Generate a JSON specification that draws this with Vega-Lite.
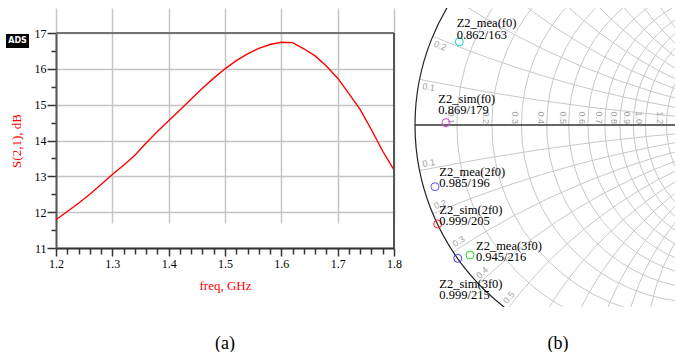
{
  "$schema": "https://vega.github.io/schema/vega-lite/v6.json",
  "padding": {"left": 5, "top": 8, "right": 0, "bottom": 0},
  "background": "white",
  "spacing": 11,
  "config": {"view": {"stroke": null}, "font": "Liberation Serif"},
  "datasets": {
    "curve": [
      {"f": 1.2, "s21": 11.79}, {"f": 1.22, "s21": 12.02}, {"f": 1.24, "s21": 12.25}, {"f": 1.26, "s21": 12.5},
      {"f": 1.28, "s21": 12.77}, {"f": 1.3, "s21": 13.05}, {"f": 1.32, "s21": 13.31}, {"f": 1.34, "s21": 13.59},
      {"f": 1.36, "s21": 13.93}, {"f": 1.38, "s21": 14.25}, {"f": 1.4, "s21": 14.55}, {"f": 1.42, "s21": 14.85},
      {"f": 1.44, "s21": 15.16}, {"f": 1.46, "s21": 15.46}, {"f": 1.48, "s21": 15.74}, {"f": 1.5, "s21": 16.0},
      {"f": 1.52, "s21": 16.23}, {"f": 1.54, "s21": 16.42}, {"f": 1.56, "s21": 16.57}, {"f": 1.58, "s21": 16.68},
      {"f": 1.6, "s21": 16.74}, {"f": 1.62, "s21": 16.73}, {"f": 1.64, "s21": 16.56}, {"f": 1.66, "s21": 16.36},
      {"f": 1.68, "s21": 16.08}, {"f": 1.7, "s21": 15.74}, {"f": 1.72, "s21": 15.31}, {"f": 1.74, "s21": 14.86},
      {"f": 1.76, "s21": 14.3}, {"f": 1.78, "s21": 13.7}, {"f": 1.8, "s21": 13.18}
    ],
    "grid": [
      {"cre": 0.0909, "cim": 0, "rad": 0.9091}, {"cre": 0.1667, "cim": 0, "rad": 0.8333},
      {"cre": 0.2308, "cim": 0, "rad": 0.7692}, {"cre": 0.2857, "cim": 0, "rad": 0.7143},
      {"cre": 0.3333, "cim": 0, "rad": 0.6667}, {"cre": 0.375, "cim": 0, "rad": 0.625},
      {"cre": 0.4118, "cim": 0, "rad": 0.5882}, {"cre": 0.4444, "cim": 0, "rad": 0.5556},
      {"cre": 0.4737, "cim": 0, "rad": 0.5263}, {"cre": 0.5, "cim": 0, "rad": 0.5},
      {"cre": 0.5455, "cim": 0, "rad": 0.4545},
      {"cre": 1, "cim": 10, "rad": 10}, {"cre": 1, "cim": -10, "rad": 10},
      {"cre": 1, "cim": 5, "rad": 5}, {"cre": 1, "cim": -5, "rad": 5},
      {"cre": 1, "cim": 3.3333, "rad": 3.3333}, {"cre": 1, "cim": -3.3333, "rad": 3.3333},
      {"cre": 1, "cim": 2.5, "rad": 2.5}, {"cre": 1, "cim": -2.5, "rad": 2.5},
      {"cre": 1, "cim": 2, "rad": 2}, {"cre": 1, "cim": -2, "rad": 2},
      {"cre": 1, "cim": 1.6667, "rad": 1.6667}, {"cre": 1, "cim": -1.6667, "rad": 1.6667},
      {"cre": 1, "cim": 1.4286, "rad": 1.4286}, {"cre": 1, "cim": -1.4286, "rad": 1.4286},
      {"cre": 1, "cim": 1.25, "rad": 1.25}, {"cre": 1, "cim": -1.25, "rad": 1.25},
      {"cre": 1, "cim": 1.1111, "rad": 1.1111}, {"cre": 1, "cim": -1.1111, "rad": 1.1111},
      {"cre": 1, "cim": 1, "rad": 1}, {"cre": 1, "cim": -1, "rad": 1}
    ],
    "rlab": [
      {"lab": "0.1", "lre": -0.8269, "lim": 0.0043}, {"lab": "0.2", "lre": -0.6754, "lim": 0.0043},
      {"lab": "0.3", "lre": -0.5472, "lim": 0.0043}, {"lab": "0.4", "lre": -0.4373, "lim": 0.0043},
      {"lab": "0.5", "lre": -0.342, "lim": 0.0043}, {"lab": "0.6", "lre": -0.2587, "lim": 0.0043},
      {"lab": "0.7", "lre": -0.1852, "lim": 0.0043}, {"lab": "0.8", "lre": -0.1198, "lim": 0.0043},
      {"lab": "0.9", "lre": -0.0613, "lim": 0.0043}, {"lab": "1.0", "lre": -0.0087, "lim": 0.0043},
      {"lab": "1.2", "lre": 0.0822, "lim": 0.0043}
    ],
    "xlab": [
      {"lab": "0.1", "lre": -0.9407, "lim": 0.1645, "phi": 170.08},
      {"lab": "0.2", "lre": -0.8909, "lim": 0.3441, "phi": 158.88},
      {"lab": "0.1", "lre": -0.9407, "lim": -0.1645, "phi": 189.92},
      {"lab": "0.2", "lre": -0.8909, "lim": -0.3441, "phi": 201.12},
      {"lab": "0.3", "lre": -0.8108, "lim": -0.5045, "phi": 211.9},
      {"lab": "0.4", "lre": -0.7086, "lim": -0.6403, "phi": 222.1},
      {"lab": "0.5", "lre": -0.5928, "lim": -0.7488, "phi": 231.63}
    ],
    "mk": [
      {"name": "Z2_mea(f0)", "val": "0.862/163", "mre": -0.8078, "mim": 0.3614, "tre": -0.8191, "tim": 0.4425},
      {"name": "Z2_sim(f0)", "val": "0.869/179", "mre": -0.8655, "mim": 0.01, "tre": -0.8989, "tim": 0.1128},
      {"name": "Z2_mea(2f0)", "val": "0.985/196", "mre": -0.9132, "mim": -0.2677, "tre": -0.8946, "tim": -0.2039},
      {"name": "Z2_sim(2f0)", "val": "0.999/205", "mre": -0.9015, "mim": -0.4295, "tre": -0.8946, "tim": -0.3666},
      {"name": "Z2_mea(3f0)", "val": "0.945/216", "mre": -0.7614, "mim": -0.564, "tre": -0.7354, "tim": -0.5249},
      {"name": "Z2_sim(3f0)", "val": "0.999/215", "mre": -0.8148, "mim": -0.5783, "tre": -0.8946, "tim": -0.6898}
    ]
  },
  "hconcat": [
    {
      "width": 338,
      "height": 240,
      "title": {"text": "(a)", "orient": "bottom", "anchor": "middle", "font": "Liberation Serif", "fontSize": 18, "fontWeight": "normal", "color": "black", "offset": 43},
      "layer": [
        {
          "data": {"name": "curve"},
          "mark": {"type": "line", "color": "#ff0000", "strokeWidth": 1.4},
          "encoding": {
            "x": {
              "field": "f", "type": "quantitative",
              "scale": {"domain": [1.2, 1.8], "nice": false, "zero": false},
              "axis": {
                "values": [1.2, 1.22, 1.24, 1.26, 1.28, 1.3, 1.32, 1.34, 1.36, 1.38, 1.4, 1.42, 1.44, 1.46, 1.48, 1.5, 1.52, 1.54, 1.56, 1.58, 1.6, 1.62, 1.64, 1.66, 1.68, 1.7, 1.72, 1.74, 1.76, 1.78, 1.8],
                "tickCount": 1000,
                "labelExpr": "abs(datum.value*10 - round(datum.value*10)) < 0.001 ? format(datum.value, '.1f') : ''",
                "labelFont": "Liberation Serif", "labelFontSize": 12, "labelColor": "black", "labelPadding": 2,
                "labelOverlap": false, "labelFlush": false,
                "tickSize": {"condition": {"test": "abs(datum.value*10 - round(datum.value*10)) < 0.001", "value": 8}, "value": 6},
                "tickColor": "#333333", "tickWidth": 1.5,
                "domainColor": "#333333", "domainWidth": 2,
                "grid": true, "gridColor": "#c4c4c4", "gridWidth": 1.5,
                "gridOpacity": {"condition": {"test": "abs(datum.value*10 - round(datum.value*10)) < 0.001", "value": 1}, "value": 0},
                "title": "freq, GHz", "titleFont": "Liberation Serif", "titleFontSize": 13, "titleFontWeight": "normal",
                "titleColor": "#ff0000", "titlePadding": 10
              }
            },
            "y": {
              "field": "s21", "type": "quantitative",
              "scale": {"domain": [11, 17], "range": [240, 25], "nice": false, "zero": false},
              "axis": {
                "values": [11, 11.5, 12, 12.5, 13, 13.5, 14, 14.5, 15, 15.5, 16, 16.5, 17],
                "tickCount": 1000,
                "labelExpr": "datum.value % 1 == 0 ? format(datum.value, 'd') : ''",
                "labelFont": "Liberation Serif", "labelFontSize": 12, "labelColor": "black", "labelPadding": 1,
                "labelOverlap": false,
                "tickSize": {"condition": {"test": "datum.value % 1 == 0", "value": 9}, "value": 5},
                "tickColor": "#333333", "tickWidth": 1.5,
                "domainColor": "#555555", "domainWidth": 2,
                "grid": true, "gridColor": "#c4c4c4", "gridWidth": 1.5,
                "gridOpacity": {"condition": {"test": "datum.value % 1 == 0", "value": 1}, "value": 0},
                "title": "S(2,1), dB", "titleFont": "Liberation Serif", "titleFontSize": 13, "titleFontWeight": "normal",
                "titleColor": "#ff0000", "titlePadding": 11
              }
            }
          }
        },
        {
          "data": {"values": [{}]},
          "mark": {"type": "rule", "color": "#747474", "strokeWidth": 2},
          "encoding": {"x": {"datum": 1.2}, "x2": {"datum": 1.8}, "y": {"datum": 17}}
        },
        {
          "data": {"values": [{}]},
          "mark": {"type": "rule", "color": "#555555", "strokeWidth": 2},
          "encoding": {"x": {"datum": 1.8}, "y": {"datum": 11}, "y2": {"datum": 17}}
        },
        {
          "data": {"values": [{}]},
          "mark": {"type": "rect", "color": "black"},
          "encoding": {"x": {"datum": 1.1112}, "x2": {"datum": 1.1521}, "y": {"datum": 16.972}, "y2": {"datum": 16.581}}
        },
        {
          "data": {"values": [{}]},
          "mark": {"type": "text", "color": "white", "font": "DejaVu Sans", "fontWeight": "bold", "fontSize": 8, "align": "center", "baseline": "middle"},
          "encoding": {"x": {"datum": 1.1317}, "y": {"datum": 16.777}, "text": {"value": "ADS"}}
        }
      ]
    },
    {
      "width": 262,
      "height": 299,
      "title": {"text": "(b)", "orient": "bottom", "anchor": "middle", "font": "Liberation Serif", "fontSize": 18, "fontWeight": "normal", "color": "black", "offset": 28, "dx": 14},
      "layer": [
        {
          "data": {"name": "grid"},
          "mark": {"type": "point", "shape": "circle", "filled": false, "color": "#c8c8c8", "strokeWidth": 1, "opacity": 1, "clip": true},
          "encoding": {
            "x": {"field": "cre", "type": "quantitative", "scale": {"domain": [-1.00868, 0.12798], "nice": false, "zero": false}, "axis": null},
            "y": {"field": "cim", "type": "quantitative", "scale": {"domain": [-0.78959, 0.50759], "nice": false, "zero": false}, "axis": null},
            "size": {"field": "rad", "type": "quantitative", "scale": {"type": "pow", "exponent": 2, "domain": [0, 10], "range": [0, 21252100]}, "legend": null}
          }
        },
        {
          "data": {"values": [{}]},
          "mark": {"type": "point", "shape": "circle", "filled": false, "color": "white", "strokeWidth": 200, "opacity": 1, "clip": true},
          "encoding": {"x": {"datum": 0}, "y": {"datum": 0}, "size": {"datum": 1.4338, "type": "quantitative", "legend": null}}
        },
        {
          "data": {"values": [{}]},
          "mark": {"type": "point", "shape": "circle", "filled": false, "color": "#222222", "strokeWidth": 1.2, "opacity": 1, "clip": true},
          "encoding": {"x": {"datum": 0}, "y": {"datum": 0}, "size": {"datum": 1, "type": "quantitative", "legend": null}}
        },
        {
          "data": {"values": [{}]},
          "mark": {"type": "rule", "color": "#333333", "strokeWidth": 1.5, "clip": true},
          "encoding": {"x": {"datum": -1}, "x2": {"datum": 1}, "y": {"datum": 0}}
        },
        {
          "data": {"name": "rlab"},
          "mark": {"type": "text", "angle": 90, "align": "right", "baseline": "top", "font": "Liberation Sans", "fontSize": 9, "color": "#a0a0a0", "clip": true},
          "encoding": {
            "x": {"field": "lre", "type": "quantitative"},
            "y": {"field": "lim", "type": "quantitative"},
            "text": {"field": "lab"}
          }
        },
        {
          "data": {"name": "xlab"},
          "mark": {"type": "text", "align": "center", "baseline": "middle", "font": "Liberation Sans", "fontSize": 9, "color": "#a0a0a0", "clip": true},
          "encoding": {
            "x": {"field": "lre", "type": "quantitative"},
            "y": {"field": "lim", "type": "quantitative"},
            "text": {"field": "lab"},
            "angle": {"field": "phi", "type": "quantitative", "scale": {"domain": [0, 360], "range": [180, -180]}, "legend": null}
          }
        },
        {
          "data": {"name": "mk"},
          "mark": {"type": "point", "shape": "circle", "filled": false, "size": 64, "strokeWidth": 1, "opacity": 1},
          "encoding": {
            "x": {"field": "mre", "type": "quantitative"},
            "y": {"field": "mim", "type": "quantitative"},
            "color": {
              "field": "name", "type": "nominal", "legend": null,
              "scale": {
                "domain": ["Z2_mea(f0)", "Z2_sim(f0)", "Z2_mea(2f0)", "Z2_sim(2f0)", "Z2_mea(3f0)", "Z2_sim(3f0)"],
                "range": ["#00d4d4", "#e040e0", "#5a5aff", "#ff2020", "#20e020", "#3a3ae0"]
              }
            }
          }
        },
        {
          "data": {"name": "mk"},
          "mark": {"type": "text", "align": "left", "baseline": "middle", "font": "Liberation Serif", "fontSize": 12.5, "color": "black"},
          "encoding": {
            "x": {"field": "tre", "type": "quantitative"},
            "y": {"field": "tim", "type": "quantitative"},
            "text": {"field": "name"}
          }
        },
        {
          "data": {"name": "mk"},
          "mark": {"type": "text", "align": "left", "baseline": "middle", "font": "Liberation Serif", "fontSize": 12.5, "color": "black", "dy": 11.5},
          "encoding": {
            "x": {"field": "tre", "type": "quantitative"},
            "y": {"field": "tim", "type": "quantitative"},
            "text": {"field": "val"}
          }
        }
      ]
    }
  ]
}
